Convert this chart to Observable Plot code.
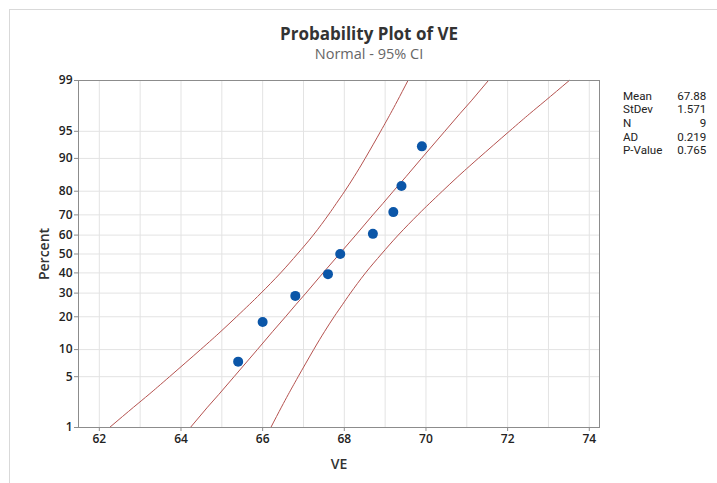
<!DOCTYPE html>
<html>
<head>
<meta charset="utf-8">
<script src="https://cdn.jsdelivr.net/npm/d3@7"></script>
<script src="https://cdn.jsdelivr.net/npm/@observablehq/plot@0.6"></script>
<style>
  html, body { margin: 0; padding: 0; background: #fff; }
  #wrap { position: relative; width: 717px; height: 483px; overflow: hidden; font-family: "Open Sans", "Noto Sans", sans-serif; }
  #border { position: absolute; left: 9px; top: 9px; width: 720px; height: 480px; border-left: 1px solid #d9d9d9; border-top: 1px solid #d9d9d9; }
  #chart { position: absolute; left: 0; top: 0; }
  .title { position: absolute; left: 0; width: 738px; text-align: center; color: #333; }
  #t1 { top: 22px; font-size: 17px; font-weight: 700; }
  #t2 { top: 44px; font-size: 14.5px; color: #666; }
  #stats { position: absolute; left: 623px; top: 89.5px; font-family: Roboto, "Open Sans", sans-serif; font-size: 11.6px; color: #222; line-height: 13.7px; }
  #stats table { border-collapse: collapse; }
  #stats td { padding: 0; }
  #stats td.v { text-align: right; width: 44px; }
</style>
</head>
<body>
<div id="wrap">
  <div id="border"></div>
  <div id="chart"></div>
  <div class="title" id="t1"></div>
  <div class="title" id="t2"></div>
  <div id="stats"></div>
</div>
<script>
// ---- data ----
const titleText = "Probability Plot of VE";
const subtitleText = "Normal - 95% CI";
const xLabel = "VE";
const yLabel = "Percent";

// observed VE values and their plotting positions (percent)
const veValues = [65.4, 66.0, 66.8, 67.6, 67.9, 68.7, 69.2, 69.4, 69.9];
const vePercent = [7.45, 18.09, 28.72, 39.36, 50, 60.64, 71.28, 81.91, 92.55];

// fitted line and 95% CI band, read at these percent levels
const bandPercent = [1, 2, 3, 5, 10, 15, 20, 25, 30, 40, 50, 60, 70, 75, 80, 85, 90, 95, 97, 98, 99];
const fitVE   = [64.23, 64.65, 64.93, 65.30, 65.87, 66.25, 66.56, 66.82, 67.06, 67.48, 67.88, 68.28, 68.70, 68.94, 69.20, 69.51, 69.89, 70.46, 70.83, 71.11, 71.53];
const lowerVE = [62.25, 62.84, 63.22, 63.72, 64.48, 64.98, 65.36, 65.68, 65.96, 66.44, 66.85, 67.24, 67.61, 67.80, 68.01, 68.24, 68.51, 68.89, 69.13, 69.30, 69.56];
const upperVE = [66.20, 66.46, 66.63, 66.87, 67.25, 67.52, 67.75, 67.96, 68.15, 68.52, 68.91, 69.32, 69.80, 70.08, 70.40, 70.78, 71.28, 72.04, 72.54, 72.92, 73.51];

const yTickPercents = [1, 5, 10, 20, 30, 40, 50, 60, 70, 80, 90, 95, 99];
const xTickValues = [62, 64, 66, 68, 70, 72, 74];
const xGridValues = [62, 63, 64, 65, 66, 67, 68, 69, 70, 71, 72, 73, 74];

const statLabels = ["Mean", "StDev", "N", "AD", "P-Value"];
const statValues = ["67.88", "1.571", "9", "0.219", "0.765"];

// ---- normal quantile (probit) for the probability-scale axis ----
function probit(p) {
  const a = [-3.969683028665376e+01, 2.209460984245205e+02, -2.759285104469687e+02, 1.383577518672690e+02, -3.066479806614716e+01, 2.506628277459239e+00];
  const b = [-5.447609879822406e+01, 1.615858368580409e+02, -1.556989798598866e+02, 6.680131188771972e+01, -1.328068155288572e+01];
  const c = [-7.784894002430293e-03, -3.223964580411365e-01, -2.400758277161838e+00, -2.549671348283435e+00, 4.374664141464968e+00, 2.938163982698783e+00];
  const d = [7.784695709041462e-03, 3.224671290700398e-01, 2.445134137142996e+00, 3.754408661907416e+00];
  const plow = 0.02425, phigh = 1 - plow;
  let q, r;
  if (p < plow) {
    q = Math.sqrt(-2 * Math.log(p));
    return (((((c[0]*q+c[1])*q+c[2])*q+c[3])*q+c[4])*q+c[5]) / ((((d[0]*q+d[1])*q+d[2])*q+d[3])*q+1);
  } else if (p <= phigh) {
    q = p - 0.5; r = q*q;
    return (((((a[0]*r+a[1])*r+a[2])*r+a[3])*r+a[4])*r+a[5])*q / (((((b[0]*r+b[1])*r+b[2])*r+b[3])*r+b[4])*r+1);
  } else {
    q = Math.sqrt(-2 * Math.log(1 - p));
    return -(((((c[0]*q+c[1])*q+c[2])*q+c[3])*q+c[4])*q+c[5]) / ((((d[0]*q+d[1])*q+d[2])*q+d[3])*q+1);
  }
}
const Z = pct => probit(pct / 100);

const points = veValues.map((v, i) => ({x: v, z: Z(vePercent[i])}));
const band = bandPercent.map((p, i) => ({z: Z(p), fit: fitVE[i], lo: lowerVE[i], hi: upperVE[i]}));
const yTickZ = yTickPercents.map(Z);
const yLabelMap = new Map(yTickZ.map((z, i) => [z, String(yTickPercents[i])]));

const lineColor = "#b5524f";
const textColor = "#222";

const chart = Plot.plot({
  width: 717,
  height: 483,
  marginLeft: 78,
  marginRight: 118,
  marginTop: 80,
  marginBottom: 56,
  style: {fontFamily: "'Open Sans', 'Noto Sans', sans-serif", background: "transparent", overflow: "visible"},
  x: {domain: [61.49, 74.25]},
  y: {domain: [Z(1), Z(99)]},
  marks: [
    Plot.gridX(xGridValues, {stroke: "#e3e3e3", strokeOpacity: 1}),
    Plot.gridY(yTickZ, {stroke: "#e3e3e3", strokeOpacity: 1}),
    Plot.line(band, {x: "lo", y: "z", stroke: lineColor, strokeWidth: 1, curve: "natural"}),
    Plot.line(band, {x: "hi", y: "z", stroke: lineColor, strokeWidth: 1, curve: "natural"}),
    Plot.line(band, {x: "fit", y: "z", stroke: lineColor, strokeWidth: 1}),
    Plot.dot(points, {x: "x", y: "z", r: 5, fill: "#0b56a8", stroke: "none"}),
    Plot.frame({stroke: "#8c8c8c", strokeWidth: 1}),
    Plot.axisX(xTickValues, {tickSize: 4, tickPadding: 3, fontSize: 12, fontWeight: 600, fill: textColor, stroke: "#8c8c8c", label: null}),
    Plot.axisY(yTickZ, {tickSize: 4, tickPadding: 2, fontSize: 12, fontWeight: 600, fill: textColor, stroke: "#8c8c8c", tickFormat: z => yLabelMap.get(z), label: null}),
    Plot.text([xLabel], {frameAnchor: "bottom", textAnchor: "middle", dy: 41, fontSize: 14, fontWeight: 600, fill: "#333", text: d => d}),
    Plot.text([yLabel], {frameAnchor: "left", textAnchor: "middle", dx: -34, rotate: -90, fontSize: 14, fontWeight: 600, fill: "#333", text: d => d})
  ]
});
document.getElementById("chart").appendChild(chart);

document.getElementById("t1").textContent = titleText;
document.getElementById("t2").textContent = subtitleText;
const tbl = document.createElement("table");
statLabels.forEach((l, i) => {
  const tr = document.createElement("tr");
  const td1 = document.createElement("td"); td1.textContent = l;
  const td2 = document.createElement("td"); td2.textContent = statValues[i]; td2.className = "v";
  tr.appendChild(td1); tr.appendChild(td2); tbl.appendChild(tr);
});
document.getElementById("stats").appendChild(tbl);
</script>
</body>
</html>
